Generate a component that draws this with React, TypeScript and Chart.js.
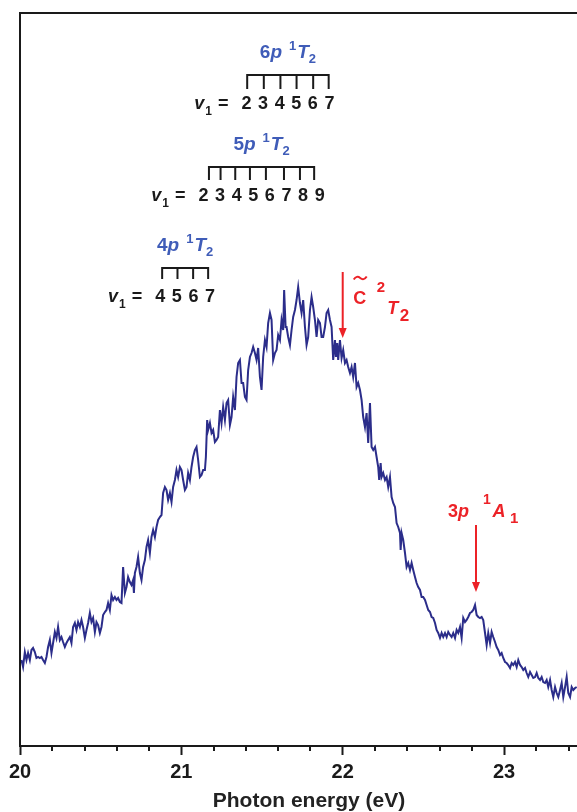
import React, { useEffect, useRef } from 'react';
import { Chart, registerables } from 'chart.js';

Chart.register(...registerables);

// Photon energy (eV)
const energy = [
  20.009, 20.019, 20.030, 20.040, 20.050, 20.061, 20.071, 20.081, 20.092, 20.102,
  20.112, 20.123, 20.133, 20.143, 20.154, 20.164, 20.174, 20.185, 20.195, 20.205,
  20.216, 20.226, 20.236, 20.247, 20.257, 20.267, 20.278, 20.288, 20.298, 20.309,
  20.319, 20.329, 20.340, 20.350, 20.360, 20.371, 20.381, 20.391, 20.402, 20.412,
  20.422, 20.433, 20.443, 20.453, 20.464, 20.474, 20.484, 20.495, 20.505, 20.515,
  20.526, 20.536, 20.546, 20.557, 20.567, 20.577, 20.588, 20.598, 20.608, 20.619,
  20.629, 20.639, 20.650, 20.660, 20.670, 20.681, 20.691, 20.701, 20.706, 20.712,
  20.722, 20.732, 20.743, 20.753, 20.763, 20.774, 20.784, 20.794, 20.805, 20.815,
  20.825, 20.836, 20.846, 20.856, 20.867, 20.877, 20.887, 20.898, 20.908, 20.918,
  20.929, 20.939, 20.949, 20.960, 20.970, 20.980, 20.991, 21.001, 21.011, 21.022,
  21.032, 21.042, 21.053, 21.063, 21.073, 21.084, 21.094, 21.104, 21.115, 21.125,
  21.135, 21.146, 21.152, 21.160, 21.166, 21.177, 21.187, 21.197, 21.208, 21.218,
  21.228, 21.239, 21.249, 21.259, 21.270, 21.280, 21.290, 21.301, 21.311, 21.321,
  21.332, 21.342, 21.352, 21.363, 21.373, 21.383, 21.394, 21.404, 21.414, 21.425,
  21.435, 21.445, 21.456, 21.466, 21.476, 21.487, 21.497, 21.507, 21.518, 21.528,
  21.538, 21.549, 21.559, 21.569, 21.580, 21.590, 21.600, 21.611, 21.621, 21.631,
  21.637, 21.646, 21.652, 21.662, 21.673, 21.683, 21.693, 21.704, 21.714, 21.724,
  21.735, 21.745, 21.755, 21.766, 21.776, 21.786, 21.797, 21.807, 21.817, 21.828,
  21.838, 21.848, 21.859, 21.869, 21.879, 21.890, 21.900, 21.910, 21.921, 21.931,
  21.941, 21.952, 21.958, 21.966, 21.972, 21.983, 21.993, 22.003, 22.014, 22.024,
  22.034, 22.045, 22.055, 22.065, 22.076, 22.086, 22.096, 22.107, 22.117, 22.127,
  22.138, 22.148, 22.158, 22.169, 22.179, 22.189, 22.200, 22.210, 22.220, 22.226,
  22.235, 22.241, 22.251, 22.262, 22.272, 22.282, 22.293, 22.303, 22.313, 22.324,
  22.334, 22.344, 22.355, 22.359, 22.365, 22.375, 22.386, 22.396, 22.406, 22.417,
  22.427, 22.437, 22.448, 22.458, 22.468, 22.479, 22.489, 22.499, 22.510, 22.520,
  22.530, 22.541, 22.551, 22.561, 22.572, 22.582, 22.592, 22.603, 22.613, 22.623,
  22.634, 22.644, 22.654, 22.665, 22.675, 22.685, 22.696, 22.706, 22.716, 22.727,
  22.737, 22.747, 22.758, 22.768, 22.778, 22.789, 22.799, 22.809, 22.820, 22.830,
  22.840, 22.851, 22.861, 22.871, 22.882, 22.892, 22.902, 22.913, 22.923, 22.933,
  22.944, 22.954, 22.964, 22.975, 22.985, 22.995, 23.006, 23.016, 23.026, 23.037,
  23.047, 23.057, 23.068, 23.078, 23.088, 23.099, 23.109, 23.119, 23.130, 23.140,
  23.150, 23.161, 23.171, 23.181, 23.192, 23.202, 23.212, 23.223, 23.233, 23.243,
  23.254, 23.264, 23.274, 23.285, 23.295, 23.305, 23.316, 23.326, 23.336, 23.347,
  23.357, 23.367, 23.378, 23.388, 23.398, 23.409, 23.419, 23.429, 23.440, 23.450,
];

// Signal (arbitrary units)
const intensity = [
  81, 74, 89, 81, 88, 81, 91, 93, 89, 83,
  84, 83, 84, 81, 78, 84, 94, 101, 88, 98,
  109, 103, 114, 101, 104, 99, 94, 98, 101, 104,
  98, 114, 118, 111, 119, 114, 121, 114, 103, 111,
  118, 128, 119, 123, 109, 119, 116, 108, 114, 126,
  129, 131, 138, 131, 146, 141, 144, 141, 143, 139,
  138, 174, 148, 154, 164, 159, 156, 161, 148, 168,
  174, 184, 168, 161, 174, 181, 194, 201, 188, 204,
  211, 204, 214, 221, 224, 226, 248, 254, 251, 241,
  248, 239, 254, 261, 271, 264, 274, 271, 261, 251,
  254, 268, 261, 274, 284, 291, 294, 281, 264, 266,
  271, 271, 284, 321, 311, 318, 308, 311, 299, 301,
  304, 331, 318, 334, 321, 338, 341, 316, 324, 344,
  331, 364, 378, 381, 358, 358, 344, 341, 371, 384,
  388, 394, 388, 381, 393, 364, 351, 384, 401, 394,
  418, 428, 421, 381, 388, 391, 406, 401, 421, 411,
  451, 414, 414, 404, 396, 411, 424, 431, 441, 454,
  438, 428, 441, 414, 396, 404, 431, 444, 434, 421,
  404, 421, 418, 404, 404, 414, 428, 431, 421, 414,
  381, 401, 384, 398, 381, 401, 383, 391, 378, 381,
  374, 368, 374, 364, 378, 354, 358, 351, 341, 324,
  314, 328, 298, 338, 294, 291, 294, 284, 274, 261,
  278, 264, 268, 261, 264, 254, 264, 244, 238, 234,
  218, 214, 208, 191, 208, 201, 188, 174, 178, 171,
  178, 171, 164, 158, 154, 151, 144, 144, 141, 136,
  131, 129, 124, 123, 118, 111, 108, 103, 108, 104,
  108, 104, 109, 106, 104, 108, 103, 111, 108, 114,
  103, 123, 119, 121, 124, 128, 129, 131, 136, 126,
  124, 123, 124, 121, 108, 96, 108, 98, 109, 104,
  99, 94, 91, 86, 88, 83, 79, 78, 76, 73,
  78, 76, 79, 74, 81, 76, 74, 71, 73, 68,
  64, 69, 66, 63, 64, 68, 63, 61, 64, 59,
  58, 61, 54, 61, 51, 44, 54, 48, 44, 51,
  58, 44, 54, 64, 48, 44, 54, 51, 53, 54,
];

const xMin = 20;
const xMax = 23.452;
const xTickValues = [20, 21, 22, 23];
const xMinorStep = 0.2;
const yMin = -5;
const yMax = 728;
const xTitle = 'Photon energy (eV)';

// Vibrational progressions (v1 levels) of the np 1T2 Rydberg states
const p4Energies = [20.881, 20.976, 21.073, 21.166];
const p4Levels = ['4', '5', '6', '7'];
const p5Energies = [21.171, 21.243, 21.334, 21.425, 21.524, 21.636, 21.735, 21.823];
const p5Levels = ['2', '3', '4', '5', '6', '7', '8', '9'];
const p6Energies = [21.408, 21.511, 21.614, 21.714, 21.817, 21.913];
const p6Levels = ['2', '3', '4', '5', '6', '7'];
const progressionN = ['4', '5', '6'];
const progressionBarLevel = [473, 574, 666];
const progressionTickLen = [11, 13, 14];

// Arrow markers
const cStateEnergy = 22.0;
const cStateArrow = [469, 403]; // top, tip
const p3Energy = 22.826;
const p3Arrow = [216, 149];

const FAM = '"Liberation Sans", Arial, Helvetica, sans-serif';
const bold = (s: number) => `bold ${s}px ${FAM}`;
const bi = (s: number) => `italic bold ${s}px ${FAM}`;
const INK = '#1a1a1a';
const BLUE = '#3f5cb8';
const RED = '#ec2227';
const LINE = '#2b2d8a';

type Part = { t: string; font: string; dy?: number; dx?: number };

function drawParts(ctx: CanvasRenderingContext2D, parts: Part[], x: number, y: number, align: 'left' | 'center' | 'right') {
  let total = 0;
  const widths = parts.map((p) => {
    ctx.font = p.font;
    const w = ctx.measureText(p.t).width + (p.dx || 0);
    total += w;
    return w;
  });
  let cx = align === 'center' ? x - total / 2 : align === 'right' ? x - total : x;
  ctx.textAlign = 'left';
  ctx.textBaseline = 'alphabetic';
  parts.forEach((p, i) => {
    ctx.font = p.font;
    ctx.fillText(p.t, cx + (p.dx || 0), y + (p.dy || 0));
    cx += widths[i];
  });
}

function drawArrow(ctx: CanvasRenderingContext2D, x: number, yTop: number, yTip: number) {
  ctx.strokeStyle = RED;
  ctx.fillStyle = RED;
  ctx.lineWidth = 2;
  ctx.beginPath();
  ctx.moveTo(x, yTop);
  ctx.lineTo(x, yTip - 8);
  ctx.stroke();
  ctx.beginPath();
  ctx.moveTo(x - 4, yTip - 10);
  ctx.lineTo(x + 4, yTip - 10);
  ctx.lineTo(x, yTip);
  ctx.closePath();
  ctx.fill();
}

const annotatePlugin = {
  id: 'annotate',
  afterDraw(chart: any) {
    const { ctx, chartArea } = chart;
    const xs = chart.scales.x;
    const ys = chart.scales.y;
    ctx.save();

    // frame (left and top)
    ctx.strokeStyle = INK;
    ctx.lineWidth = 2;
    ctx.beginPath();
    ctx.moveTo(chartArea.left, chartArea.bottom);
    ctx.lineTo(chartArea.left, chartArea.top);
    ctx.lineTo(chart.width, chartArea.top);
    ctx.stroke();

    // minor ticks
    ctx.beginPath();
    for (let k = 1; xMin + k * xMinorStep < xMax; k++) {
      const v = xMin + k * xMinorStep;
      if (Math.abs(v - Math.round(v)) < 1e-6) continue;
      const px = Math.round(xs.getPixelForValue(v));
      ctx.moveTo(px, chartArea.bottom);
      ctx.lineTo(px, chartArea.bottom + 5);
    }
    ctx.stroke();

    // axis title
    ctx.fillStyle = '#222';
    ctx.font = bold(21);
    ctx.textAlign = 'center';
    ctx.textBaseline = 'alphabetic';
    ctx.fillText(xTitle, 309, 807);

    // progressions
    const progs = [
      { e: p4Energies, lv: p4Levels },
      { e: p5Energies, lv: p5Levels },
      { e: p6Energies, lv: p6Levels },
    ];
    progs.forEach((pg, i) => {
      const pxs = pg.e.map((v) => xs.getPixelForValue(v));
      const yb = ys.getPixelForValue(progressionBarLevel[i]);
      const first = pxs[0];
      const last = pxs[pxs.length - 1];
      const mid = (first + last) / 2;
      ctx.strokeStyle = INK;
      ctx.lineWidth = 2;
      ctx.beginPath();
      ctx.moveTo(first - 1, yb);
      ctx.lineTo(last + 1, yb);
      pxs.forEach((px) => {
        ctx.moveTo(px, yb);
        ctx.lineTo(px, yb + progressionTickLen[i]);
      });
      ctx.stroke();

      // digits
      const pitch = 16.6;
      const n = pg.lv.length;
      const start = mid - (pitch * (n - 1)) / 2;
      ctx.fillStyle = INK;
      ctx.font = bold(18);
      ctx.textAlign = 'center';
      ctx.textBaseline = 'alphabetic';
      const base = yb + 34;
      pg.lv.forEach((d, j) => ctx.fillText(d, start + j * pitch, base));
      drawParts(
        ctx,
        [
          { t: 'v', font: bi(18) },
          { t: '1', font: bold(12), dy: 6, dx: 1 },
          { t: ' =', font: bold(18), dx: 1 },
        ],
        start - 18,
        base,
        'right'
      );

      // title
      ctx.fillStyle = BLUE;
      drawParts(
        ctx,
        [
          { t: progressionN[i], font: bold(19) },
          { t: 'p', font: bi(19) },
          { t: '1', font: bold(13), dy: -8, dx: 7 },
          { t: 'T', font: bi(19), dx: 1 },
          { t: '2', font: bold(13), dy: 5 },
        ],
        mid,
        yb - 17,
        'center'
      );
    });

    // C~ 2T2 arrow
    {
      const ax = xs.getPixelForValue(cStateEnergy);
      const top = ys.getPixelForValue(cStateArrow[0]);
      const tip = ys.getPixelForValue(cStateArrow[1]);
      drawArrow(ctx, ax, top, tip);
      ctx.fillStyle = RED;
      ctx.textAlign = 'left';
      ctx.textBaseline = 'alphabetic';
      ctx.font = bold(18);
      ctx.fillText('C', ax + 10.5, top + 32);
      // tilde
      const tx = ax + 11;
      const ty = top + 6;
      ctx.strokeStyle = RED;
      ctx.lineWidth = 2;
      ctx.beginPath();
      ctx.moveTo(tx, ty + 1.5);
      ctx.quadraticCurveTo(tx + 3, ty - 3, tx + 6.5, ty);
      ctx.quadraticCurveTo(tx + 10, ty + 3, tx + 13, ty - 1.5);
      ctx.stroke();
      ctx.font = bold(15);
      ctx.fillText('2', ax + 34, top + 20);
      ctx.font = bi(18);
      ctx.fillText('T', ax + 44.5, top + 41.5);
      ctx.font = bold(17);
      ctx.fillText('2', ax + 57, top + 49);
    }

    // 3p 1A1 arrow
    {
      const ax = xs.getPixelForValue(p3Energy);
      const top = ys.getPixelForValue(p3Arrow[0]);
      const tip = ys.getPixelForValue(p3Arrow[1]);
      drawArrow(ctx, ax, top, tip);
      ctx.fillStyle = RED;
      drawParts(ctx, [{ t: '3', font: bold(18) }, { t: 'p', font: bi(18) }], ax - 28, top - 8.5, 'left');
      ctx.font = bold(14);
      ctx.fillText('1', ax + 7, top - 21.5);
      ctx.font = bi(18);
      ctx.fillText('A', ax + 16.5, top - 8.3);
      ctx.font = bold(15);
      ctx.fillText('1', ax + 34, top - 1.7);
    }

    ctx.restore();
  },
};

export default function App() {
  const ref = useRef<HTMLCanvasElement>(null);
  useEffect(() => {
    document.body.style.margin = '0';
    const points = energy.map((e, i) => ({ x: e, y: intensity[i] }));
    const chart = new Chart(ref.current as HTMLCanvasElement, {
      type: 'line',
      data: {
        datasets: [
          {
            data: points,
            borderColor: LINE,
            borderWidth: 2,
            pointRadius: 0,
            tension: 0,
            fill: false,
          },
        ],
      },
      options: {
        responsive: false,
        devicePixelRatio: 1,
        animation: false,
        layout: { padding: { left: 20, top: 13, right: 0, bottom: 0 } },
        plugins: { legend: { display: false }, tooltip: { enabled: false }, title: { display: false } },
        scales: {
          x: {
            type: 'linear',
            min: xMin,
            max: xMax,
            afterBuildTicks: (axis: any) => {
              axis.ticks = xTickValues.map((v) => ({ value: v }));
            },
            afterFit: (axis: any) => {
              axis.height = 66;
            },
            ticks: {
              autoSkip: false,
              maxRotation: 0,
              padding: 5,
              color: INK,
              font: { family: FAM, size: 20, weight: 'bold' },
              callback: (v: any) => String(v),
            },
            grid: { drawOnChartArea: false, drawTicks: true, tickLength: 9, tickWidth: 2, tickColor: INK },
            border: { display: true, color: INK, width: 2 },
          },
          y: {
            display: false,
            min: yMin,
            max: yMax,
          },
        },
      },
      plugins: [annotatePlugin],
    } as any);
    return () => chart.destroy();
  }, []);
  return (
    <div style={{ width: 577, height: 812 }}>
      <canvas ref={ref} width={577} height={812} style={{ display: 'block', width: 577, height: 812 }} />
    </div>
  );
}
